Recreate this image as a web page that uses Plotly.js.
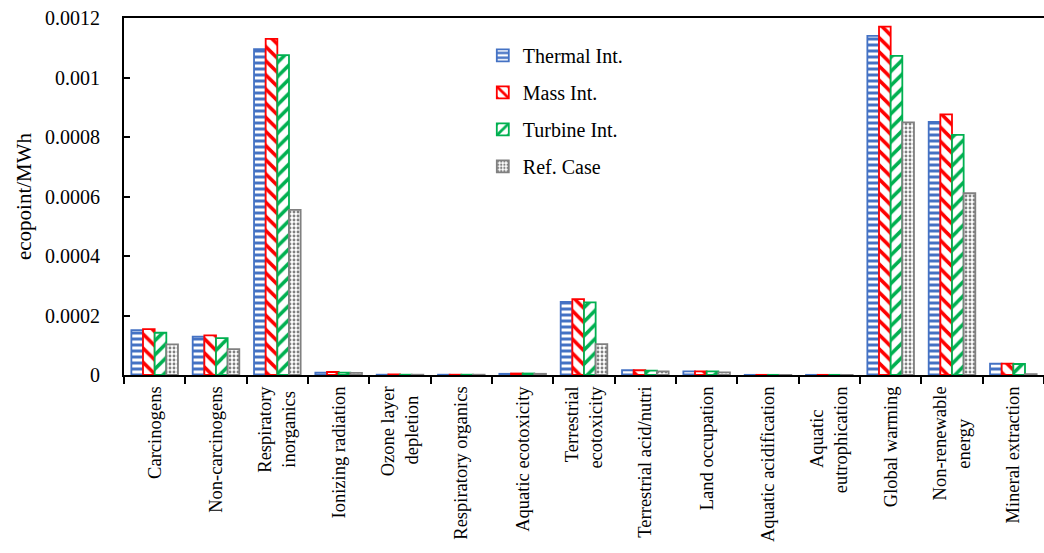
<!DOCTYPE html>
<html>
<head>
<meta charset="utf-8">
<script src="https://cdn.plot.ly/plotly-3.0.1.min.js"></script>
<style>html,body{margin:0;padding:0;background:#fff;}#chart{width:1044px;height:553px;}</style>
</head>
<body>
<div id="chart"></div>
<script>
const categories = ["Carcinogens","Non-carcinogens","Respiratory inorganics","Ionizing radiation","Ozone layer depletion","Respiratory organics","Aquatic ecotoxicity","Terrestrial ecotoxicity","Terrestrial acid/nutri","Land occupation","Aquatic acidification","Aquatic eutrophication","Global warming","Non-renewable energy","Mineral extraction"];
const NB = "\u00a0";
const tickLabels = ["Carcinogens","Non-carcinogens","Respiratory<br>inorganics" + NB,"Ionizing radiation","Ozone layer<br>depletion" + NB + NB,"Respiratory organics","Aquatic ecotoxicity","Terrestrial<br>ecotoxicity","Terrestrial acid/nutri","Land occupation","Aquatic acidification","Aquatic" + NB.repeat(5) + "<br>eutrophication","Global warming","Non-renewable<br>energy" + NB.repeat(7),"Mineral extraction"];
const seriesNames = ["Thermal Int.","Mass Int.","Turbine Int.","Ref. Case"];
const thermal = [0.000151,0.000129,0.001095,0.000008,0.000001,0.000001,0.000004,0.000246,0.000016,0.000012,0.0000005,0.0000005,0.00114,0.000851,0.000038];
const mass    = [0.000154,0.000133,0.00113,0.00001,0.000002,0.000001,0.000005,0.000255,0.000016,0.000012,0.0000005,0.0000005,0.001171,0.000876,0.000038];
const turbine = [0.000142,0.000124,0.001075,0.000008,0.000001,0.000001,0.000005,0.000244,0.000015,0.000012,0.0000005,0.0000005,0.001073,0.000807,0.000037];
const refCase = [0.000103,0.000087,0.000555,0.000007,0.000001,0.000001,0.000004,0.000104,0.000012,0.000009,0.0000003,0.0000003,0.000849,0.000611,0.000003];
const yTickVals = [0,0.0002,0.0004,0.0006,0.0008,0.001,0.0012];
const yTickText = ["0","0.0002","0.0004","0.0006","0.0008","0.001","0.0012"];

const colors = ["#4472C4","#FF0000","#00B050","#808080"];
const shapes = ["-","\\","/","."];
const sizes = [6,10,10,4];
const solids = [0.5,0.35,0.35,0.4];
const allValues = [thermal, mass, turbine, refCase];

const traces = allValues.map((vals, i) => ({
  type: 'bar',
  name: seriesNames[i],
  x: categories,
  y: vals,
  legendgroup: 'g' + i,
  marker: {
    color: colors[i],
    line: {color: colors[i], width: 1.8},
    pattern: {shape: shapes[i], fgcolor: colors[i], bgcolor: '#ffffff', fillmode: 'replace', size: sizes[i], solidity: solids[i]}
  }
}));

const font = "'Liberation Serif', 'Times New Roman', Times, serif";
const layout = {
  width: 1044, height: 553,
  margin: {l: 124, r: 0, t: 18, b: 178},
  paper_bgcolor: '#fff', plot_bgcolor: '#fff',
  font: {family: font, size: 20, color: '#000'},
  barmode: 'group', bargap: 0.24, bargroupgap: 0,
  showlegend: true,
  legend: {x: 0.39, y: 0.95, xanchor: 'left', yanchor: 'top', bgcolor: 'rgba(0,0,0,0)', font: {family: font, size: 20, color: '#000'}, tracegroupgap: 8},
  xaxis: {
    type: 'category', categoryorder: 'array', categoryarray: categories,
    tickmode: 'array', tickvals: categories, ticktext: tickLabels,
    showline: true, linecolor: '#000', linewidth: 2, mirror: true,
    ticks: 'outside', tickson: 'boundaries', ticklen: 7, tickwidth: 2, tickcolor: '#000',
    ticklabelstandoff: 2,
    tickangle: -90, tickfont: {family: font, size: 18.5, color: '#000'}, showgrid: false
  },
  yaxis: {
    range: [0, 0.0012], tickvals: yTickVals, ticktext: yTickText,
    showline: true, linecolor: '#000', linewidth: 2,
    ticks: 'inside', ticklen: 6, tickwidth: 2, tickcolor: '#000',
    showgrid: false, zeroline: false, ticklabelstandoff: 18,
    tickfont: {family: font, size: 20, color: '#000'},
    title: {text: 'ecopoint/MWh', font: {family: font, size: 21, color: '#000'}, standoff: 8}
  }
};
Plotly.newPlot('chart', traces, layout, {displayModeBar: false, staticPlot: true});
</script>
</body>
</html>
